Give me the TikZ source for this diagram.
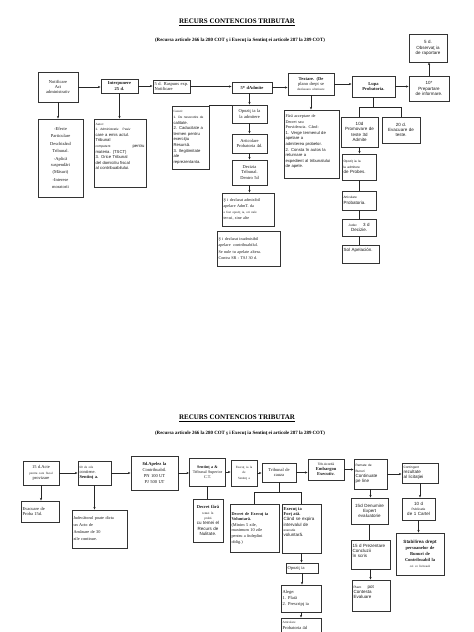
\documentclass[tikz,border=0pt]{standalone}
\usepackage{fontspec}
\setmainfont{Liberation Serif}
\setsansfont{Liberation Sans}
\usetikzlibrary{arrows.meta,calc}
\newcommand\bxfont{\fontsize{4.5}{5.3}\selectfont}
\newcommand\tinyt{\fontsize{3.2}{4}\selectfont}
\newcommand\padb[1]{\par\rule{0pt}{#1}}
% \bx[options]{name}{x1}{y1}{x2}{y2}{text}
\newcommand\bx[7][]{%
  \pgfmathsetmacro\bxw{#5-#3}%
  \pgfmathsetmacro\bxh{#6-#4}%
  \pgfmathsetmacro\bxt{#5-#3-3}%
  \node[box,minimum width=\bxw pt,minimum height=\bxh pt,text width=\bxt pt,#1]
    (#2) at ({(#3+#5)/2},{(#4+#6)/2}) {#7};}
\begin{document}
\begin{tikzpicture}[x=1pt,y=-1pt,
  box/.style={draw=black!80,line width=0.9pt,inner sep=1pt,align=center,font=\bxfont,text=black!90},
  lbox/.style={align=left},
  sbox/.style={font=\bxfont\sffamily},
  arr/.style={-{Stealth[length=2.6pt,width=2.2pt]},line width=0.55pt,draw=black!85},
  ln/.style={line width=0.55pt,draw=black!85},
  ttl/.style={font=\fontsize{7}{8}\selectfont\bfseries,inner sep=0pt},
  sub/.style={font=\fontsize{4.9}{6}\selectfont\bfseries,inner sep=0pt}]
\useasboundingbox[fill=white] (0,0) rectangle (474,632);
\clip (0,0) rectangle (474,632);

% ---------- titles ----------
\node[ttl] (T1) at (237,22) {\underline{RECURS CONTENCIOS TRIBUTAR}};
\node[sub] (S1) at (240,40) {(Recursa articole 266 la 280 COT ş i Execuţ ia Sentinţ ei articole 287 la 289 COT)};
\node[ttl] (T2) at (237,418) {\underline{RECURS CONTENCIOS TRIBUTAR}};
\node[sub] (S2) at (240,433) {(Recursa articole 266 la 280 COT ş i Execuţ ia Sentinţ ei articole 287 la 289 COT)};

% ---------- top diagram ----------
\bx{t1}{38}{72}{78}{102}{Notificare\\Act\\administrativ}
\bx{t2}{101}{79}{138}{93}{\textbf{Interpunere}\\\textbf{25 d.}}
\bx[lbox]{t3}{153}{80}{190}{93}{5 d. Raspuns exp.\\Notificare}
\bx{t4}{232}{82}{272}{93}{\textbf{5* dAdmite}}
\bx{t5}{288}{73}{334}{95}{\textbf{Textare. (De}\\plano drept se\\{\tinyt desfasoara ulterioare}}
\bx{t6}{352}{76}{395}{97}{\textbf{Lupa}\\\textbf{Probatoria.}}
\bx[sbox]{t7}{409}{76}{449}{101}{10*\\Prepartare\\de informare.}
\bx[sbox]{t8}{409}{34}{447}{62}{5 d.\\Observaţ ia\\de raportare}

\bx[font=\fontsize{4.5}{6.4}\selectfont]{t9}{38}{119}{83}{197}{-Efecte\\Particulare\\[2pt]Deschizând\\Tribunal.\\[2pt]-Aplică\\suspendări\\(Măsuri)\\[2pt]-Interese\\moratorii}
\bx[lbox,sbox,font=\fontsize{4.2}{5.6}\selectfont\sffamily]{t10}{94}{119}{146}{187}{{\rmfamily\tinyt Autor:}\\{\tinyt 1. Administrativ. \ Pasiv}\\care a emis actul.\\Tribunal\\{\tinyt competent} \hfill pentru\\materia. (TSCT)\\3. Orice Tribunal\\del domiciliu fiscal\\al contribuabilului.\padb{12pt}}
\bx[lbox,font=\fontsize{4.2}{5.6}\selectfont\sffamily]{t11}{172}{106}{209}{169}{{\rmfamily\tinyt Cazuri:}\\{\tinyt 1. De nesocotire de}\\calitate.\\2. Caducitate a\\termen pentru\\exerciţiu\\Resursă.\\3. Ilegitimitate\\ale\\reprezentanta.}
\bx{t12}{232}{105}{267}{123}{Opoziţ ia la\\la admitere}
\bx{t13}{232}{134}{267}{153}{Articolare\\Probatoria 4d.}
\bx{t14}{232}{160}{267}{185}{Decizia\\Tribunal.\\Dentro 5d}
\bx[lbox,font=\fontsize{4.2}{5.8}\selectfont]{t15}{222}{193}{274}{226}{Ş i declarat admisibil\\apelare AdmT. da\\{\tinyt a fost opoziţ ia, ori nule}\\ter-ui, sine alte}
\bx[lbox,font=\fontsize{4.2}{6.4}\selectfont]{t16}{217}{231}{280}{266}{Ş i declarat inadmisibil\\apelare \ contribuabilul.\\Se nule tu apelate altera.\\Contra SR - TSJ 30 d.}
\bx[lbox,font=\fontsize{4.2}{5.6}\selectfont]{t17}{284}{110}{339}{178}{Fără acceptare de\\Decret sau\\Providencia. Când:\\{\sffamily 1. Verge termenul de\\apelare a\\admiterea probelor.\\2. Consta în autos la\\returnare a\\expedient al tribunalului\\de apele.}\padb{4pt}}
\bx[sbox]{t18}{341}{117}{378}{147}{10d\\Promovare de\\teste 3d\\Admite}
\bx[sbox]{t19}{382}{117}{420}{143}{20 d.\\Evacuare de\\teste.}
\bx[lbox,sbox]{t20}{342}{154}{376}{180}{{\tinyt Opoziţ ia la}\\{\tinyt la admitere}\\de Probes.}
\bx[lbox,sbox]{t21}{342}{191}{376}{210}{{\tinyt Articulare}\\Probatoria.}
\bx[sbox]{t22}{342}{219}{376}{236}{{\tinyt Judec} \quad 3 d\\Decizie.}
\bx[lbox,sbox]{t23}{342}{245}{379}{263}{Sol Apelación.\padb{6pt}}

% top connectors
\draw[arr] (t1.east) -- (t1.east -| t2.west);
\draw[arr] (t2.east) -- (t2.east -| t3.west);
\draw[arr] (t3.east) -- (t3.east -| t4.west);
\draw[arr] (t4.east) -- (t4.east -| t5.west);
\draw[arr] (t5.east) -- (t5.east -| t6.west);
\draw[arr] (t6.east) -- (t6.east -| t7.west);
\draw[arr] (t7.north) -- (t7.north |- t8.south);
\draw[arr] (t1.south) -- (t1.south |- t9.north);
\draw[arr] (t2.south) -- (t2.south |- t10.north);
\draw[arr] (t12.north |- t4.south) -- (t12.north);
\draw[ln] (t11.north east) -- (t11.north east -| t12.west);
\draw[arr] (t12.south) -- (t13.north);
\draw[arr] (t13.south) -- (t14.north);
\draw[arr] (t14.south) -- (t14.south |- t15.north);
\draw[arr] (t5.south) -- (t5.south |- t17.north);
\coordinate (ls) at ($(t6.south)+(0,10)$);
\draw[ln] (t6.south) -- (ls);
\draw[ln] (ls -| t18.north) -- (ls -| t19.north);
\draw[ln] (ls -| t18.north) -- (t18.north);
\draw[ln] (ls -| t19.north) -- (t19.north);
\draw[arr] (t18.south) -- (t18.south |- t20.north);
\draw[ln] (t20.south) -- (t20.south |- t21.north);
\draw[ln] (t21.south) -- (t21.south |- t22.north);
\draw[ln] (t22.south) -- (t22.south |- t23.north);

% ---------- bottom diagram ----------
\bx{b1}{23}{461}{59}{485}{15 d.Acte\\{\tinyt pentru care fiscal}\\provizare}
\bx[lbox]{b2}{21}{501}{59}{522}{Evacuare de\\Proba 15d.}
\bx[lbox]{b3}{78}{461}{111}{485}{{\tinyt 60 de zile}\\contiene.\\\textbf{Sentinţ a.}}
\bx[lbox,font=\fontsize{4.3}{7}\selectfont]{b4}{72}{510}{127}{548}{Judecătorul poate dicta\\un Acto de\\Amânare de 30\\zile continue.}
\bx[font=\fontsize{4.5}{6.2}\selectfont]{b5}{131}{456}{178}{490}{\textbf{8d.Apelez la}\\Contribuabil.\\PN 100 UT\\PJ 500 UT}
\bx[font=\fontsize{4.1}{5.2}\selectfont,text width=34pt]{b6}{190}{458}{225}{486}{\textbf{Sentinţ a \&}\\Tribunal Superior\\C.T.}
\bx{b7}{231}{460}{257}{486}{{\tinyt Execuţ ia la}\\{\tinyt de}\\{\tinyt Sentinţ a}}
\bx{b8}{262}{463}{296}{482}{Tribunal de\\cauza}
\bx[sbox]{b9}{308}{459}{344}{480}{{\tinyt Trib.Acordă}\\{\rmfamily\bfseries Embargou}\\{\rmfamily\bfseries Executiv.}}
\bx[lbox,sbox]{b10}{354}{459}{387}{489}{{\tinyt Remate de}\\{\tinyt Bunuri}\\Continuate\\pe line}
\bx[lbox,sbox]{b11}{402}{463}{438}{483}{{\tinyt Contingent}\\rezultate\\al licitaţiei}
\bx{b12}{193}{499}{223}{542}{\textbf{Decret fără}\\{\tinyt temei în}\\{\tinyt probă}\\{\sffamily cu temei el\\Recurs de\\Nulitate.}}
\bx[lbox,font=\fontsize{4.3}{5.6}\selectfont]{b13}{230}{504}{279}{552}{\textbf{Decret de Execuţ ia}\\\textbf{Voluntară.}\\(Minim 5 zile,\\maximum 10 zile\\pentru a îndeplini\\oblig.)}
\bx[lbox]{b14}{282}{504}{321}{553}{\textbf{Execuţ ia}\\\textbf{Forţ ată.}\\{\sffamily Când se expira\\intervalul de\\{\tinyt executie}\\voluntară.}\padb{12pt}}
\bx[lbox]{b15}{286}{563}{318}{573}{Opoziţ ia}
\bx[lbox,font=\fontsize{4.5}{5.8}\selectfont]{b16}{281}{585}{321}{612}{Alege:\\1. Plată\\2. Prescripţ ia}
\bx[lbox]{b17}{281}{618}{321}{644}{{\tinyt Articolare}\\Probatoria 4d\padb{10pt}}
\bx[sbox]{b18}{351}{498}{388}{524}{15d Denumire\\Expert\\evaluatorie}
\bx[lbox,sbox]{b19}{351}{540}{390}{569}{15 d Prezentare\\Concluzii\\în scris\padb{6pt}}
\bx[lbox,sbox]{b20}{352}{580}{390}{611}{{\tinyt Plazo} \quad pot\\Contesta\\Evaluare\padb{6pt}}
\bx[sbox]{b21}{402}{498}{435}{520}{10 d\\{\tinyt Publicatie}\\de 1 Cartel}
\bx[font=\fontsize{4.5}{6}\selectfont]{b22}{396}{533}{444}{575}{{\sffamily\bfseries Stabilirea drept}\\\textbf{persoanelor de}\\\textbf{Bunuri de}\\\textbf{Contribuabil la}\\{\tinyt cei ce licitează}}

% bottom connectors
\draw[arr] (b1.east) -- (b1.east -| b3.west);
\draw[arr] (b1.south) -- (b1.south |- b2.north);
\draw[arr] (b3.east) -- (b3.east -| b5.west);
\draw[arr] (b3.south) -- (b3.south |- b4.north);
\draw[arr] (b5.east) -- (b5.east -| b6.west);
\draw[arr] (b6.east) -- (b6.east -| b7.west);
\draw[ln] (b6.south) -- (b6.south |- b12.north);
\draw[arr] (b7.east) -- (b7.east -| b8.west);
\draw[arr] (b8.east) -- (b8.east -| b9.west);
\coordinate (bs) at ($(b8.south)+(0,10)$);
\draw[ln] (b8.south) -- (bs);
\draw[ln] (bs -| b13.north) -- (bs -| b14.north);
\draw[ln] (bs -| b13.north) -- (b13.north);
\draw[ln] (bs -| b14.north) -- (b14.north);
\draw[arr] (b9.east) -- (b9.east -| b10.west);
\draw[arr] (b10.east) -- (b10.east -| b11.west);
\draw[arr] (b10.south) -- (b10.south |- b18.north);
\draw[ln] (b18.south) -- (b18.south |- b19.north);
\draw[arr] (b19.south) -- (b19.south |- b20.north);
\draw[arr] (b11.south) -- (b11.south |- b21.north);
\draw[arr] (b21.south) -- (b21.south |- b22.north);
\draw[arr] (b14.south) -- (b14.south |- b15.north);
\draw[arr] (b15.south) -- (b15.south |- b16.north);
\draw[arr] (b16.south) -- (b16.south |- b17.north);
\end{tikzpicture}
\end{document}
